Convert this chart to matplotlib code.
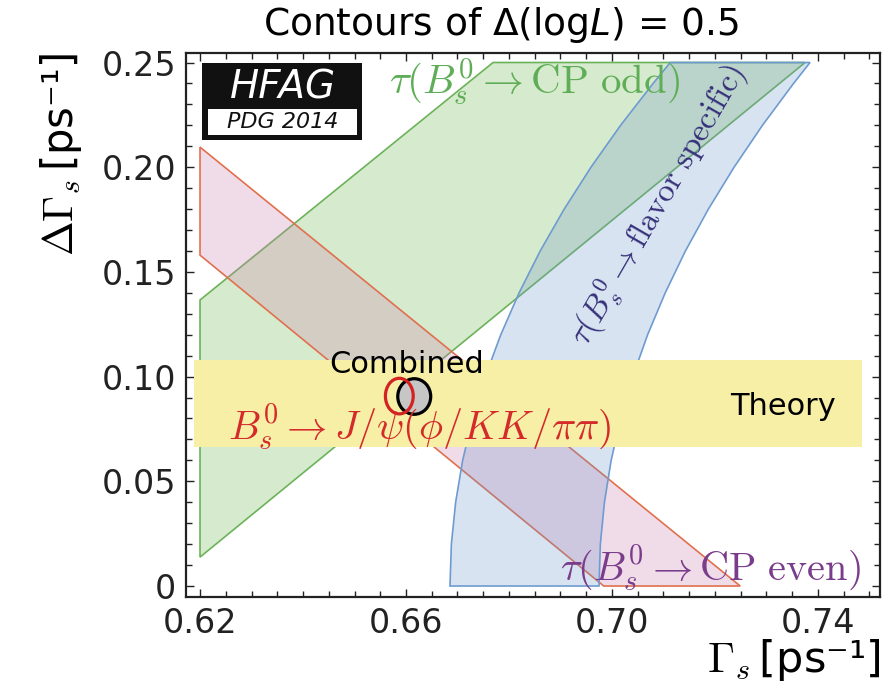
#!/usr/bin/env python3
import matplotlib
matplotlib.use("Agg")
import matplotlib.pyplot as plt
from matplotlib.patches import Polygon, Ellipse, Rectangle
from matplotlib.ticker import FixedLocator, MultipleLocator

# contorno tau(Bs -> CP odd), recortado por los ejes
cp_odd_x = [0.62, 0.62, 0.6769, 0.7375]
cp_odd_y = [0.0138, 0.1366, 0.25, 0.25]

# banda Bs -> J/psi (phi/KK/pipi)
jpsi_x = [0.62, 0.62, 0.7249, 0.6984]
jpsi_y = [0.158, 0.2096, 0.0, 0.0]

# banda tau(Bs -> flavor specific): borde izquierdo y derecho
fs_y = [0.0, 0.02, 0.04, 0.06, 0.08, 0.10, 0.12, 0.14, 0.16, 0.18,
        0.20, 0.22, 0.24, 0.25]
fs_left_x = [0.66854, 0.66881, 0.66964, 0.67100, 0.67292, 0.67539, 0.67840,
             0.68196, 0.68606, 0.69072, 0.69592, 0.70167, 0.70798, 0.71132]
fs_right_x = [0.69748, 0.69774, 0.69853, 0.69984, 0.70168, 0.70404, 0.70692,
              0.71034, 0.71426, 0.71872, 0.72371, 0.72922, 0.73526, 0.73846]

# prediccion teorica (banda horizontal)
theory_x = [0.6188, 0.7486]
theory_y = [0.0664, 0.1079]

# elipses: combinado y J/psi
comb_center = (0.66160, 0.0905)
comb_size = (0.0064, 0.0170)
jpsi_center = (0.65870, 0.0907)
jpsi_size = (0.0054, 0.0170)

xticks = [0.62, 0.66, 0.70, 0.74]
xticklabels = ["0.62", "0.66", "0.70", "0.74"]
yticks = [0, 0.05, 0.10, 0.15, 0.20, 0.25]
yticklabels = ["0", "0.05", "0.10", "0.15", "0.20", "0.25"]

plt.rcParams['font.family'] = ['DejaVu Sans']
plt.rcParams['mathtext.fontset'] = 'cm'


def grafico():
    fig = plt.figure(figsize=(8.82, 6.83), dpi=100)
    ax = fig.add_axes([0.2109, 0.1259, 0.7868, 0.7965])

    ax.add_patch(Polygon(list(zip(cp_odd_x, cp_odd_y)), closed=True,
                         facecolor=(0.47, 0.75, 0.36, 0.30),
                         edgecolor='#6cb25a', lw=1.2, zorder=1))
    ax.add_patch(Polygon(list(zip(jpsi_x, jpsi_y)), closed=True,
                         facecolor=(0.80, 0.50, 0.68, 0.28),
                         edgecolor='#e0704e', lw=1.2, zorder=2))
    bx = fs_left_x + fs_right_x[::-1]
    by = fs_y + fs_y[::-1]
    ax.add_patch(Polygon(list(zip(bx, by)), closed=True,
                         facecolor=(0.42, 0.58, 0.80, 0.26),
                         edgecolor='#6e9bd0', lw=1.2, zorder=3))

    ax.add_patch(Rectangle((theory_x[0], theory_y[0]),
                           theory_x[1] - theory_x[0], theory_y[1] - theory_y[0],
                           facecolor='#f7efa6', edgecolor='none', zorder=4))

    ax.add_patch(Ellipse(comb_center, comb_size[0], comb_size[1],
                         facecolor='#c6c6c6', edgecolor='black', lw=2.3, zorder=5))
    ax.add_patch(Ellipse(jpsi_center, jpsi_size[0], jpsi_size[1],
                         facecolor='none', edgecolor='#d42222', lw=2.3, zorder=6))

    # textos
    ax.text(0.6602, 0.1017, "Combined", fontsize=22, ha='center',
            va='baseline', zorder=7)
    ax.text(0.7332, 0.0817, "Theory", fontsize=22, ha='center',
            va='baseline', zorder=7)
    ax.text(0.6627, 0.0702, r"$B_s^0 \to J/\psi(\phi/KK/\pi\pi)$",
            color='#d42a2a', fontsize=29, ha='center', va='baseline', zorder=7)
    ax.text(0.6850, 0.2354, r"$\tau(B_s^0 \to \mathrm{CP\ odd})$",
            color='#5fae57', fontsize=29.5, ha='center', va='baseline', zorder=7)
    ax.text(0.7192, 0.0029, r"$\tau(B_s^0 \to \mathrm{CP\ even})$",
            color='#7a3d8c', fontsize=29, ha='center', va='baseline', zorder=7)
    ax.text(0.7090, 0.1819, r"$\tau(B_s^0 \to \mathrm{flavor\ specific})$",
            color='#35307a', fontsize=23.5, ha='center', va='center',
            rotation=60, rotation_mode='anchor', zorder=7)

    # logo HFAG
    ax.add_patch(Rectangle((0.023, 0.840), 0.2306, 0.1416, transform=ax.transAxes,
                           facecolor='#111111', edgecolor='none', zorder=8))
    ax.add_patch(Rectangle((0.0317, 0.849), 0.2147, 0.048, transform=ax.transAxes,
                           facecolor='white', edgecolor='none', zorder=9))
    ax.text(0.1398, 0.9375, "HFAG", transform=ax.transAxes, color='white',
            fontsize=28, style='italic', ha='center', va='center', zorder=10)
    ax.text(0.1398, 0.873, "PDG 2014", transform=ax.transAxes, color='#111111',
            fontsize=16, style='italic', ha='center', va='center', zorder=10)

    ax.set_xlim(0.61728, 0.75204)
    ax.set_ylim(-0.00525, 0.25454)
    ax.xaxis.set_major_locator(FixedLocator(xticks))
    ax.set_xticklabels(xticklabels)
    ax.xaxis.set_minor_locator(MultipleLocator(0.005))
    ax.yaxis.set_major_locator(FixedLocator(yticks))
    ax.set_yticklabels(yticklabels)
    ax.yaxis.set_minor_locator(MultipleLocator(0.01))
    ax.tick_params(which='both', direction='in', top=True, right=True,
                   width=1.0, colors='#222222', labelcolor='#222222')
    ax.tick_params(which='major', length=6, labelsize=24, pad=7)
    ax.tick_params(which='minor', length=4)
    for s in ax.spines.values():
        s.set_linewidth(1.6)
        s.set_color('#222222')

    ax.set_xlabel("$\\Gamma_s\\,$[ps\u207b\u00b9]", fontsize=31,
                  loc='right', labelpad=-2)
    ax.set_ylabel("$\\Delta\\Gamma_s\\,$[ps\u207b\u00b9]", fontsize=30,
                  loc='top', labelpad=13)

    fig.text(0.568, 0.963, r"Contours of $\Delta$(log$L$) = 0.5", fontsize=27,
             ha='center', va='center', math_fontfamily='dejavusans')

    fig.savefig("out.png", dpi=100)


if __name__ == "__main__":
    grafico()
